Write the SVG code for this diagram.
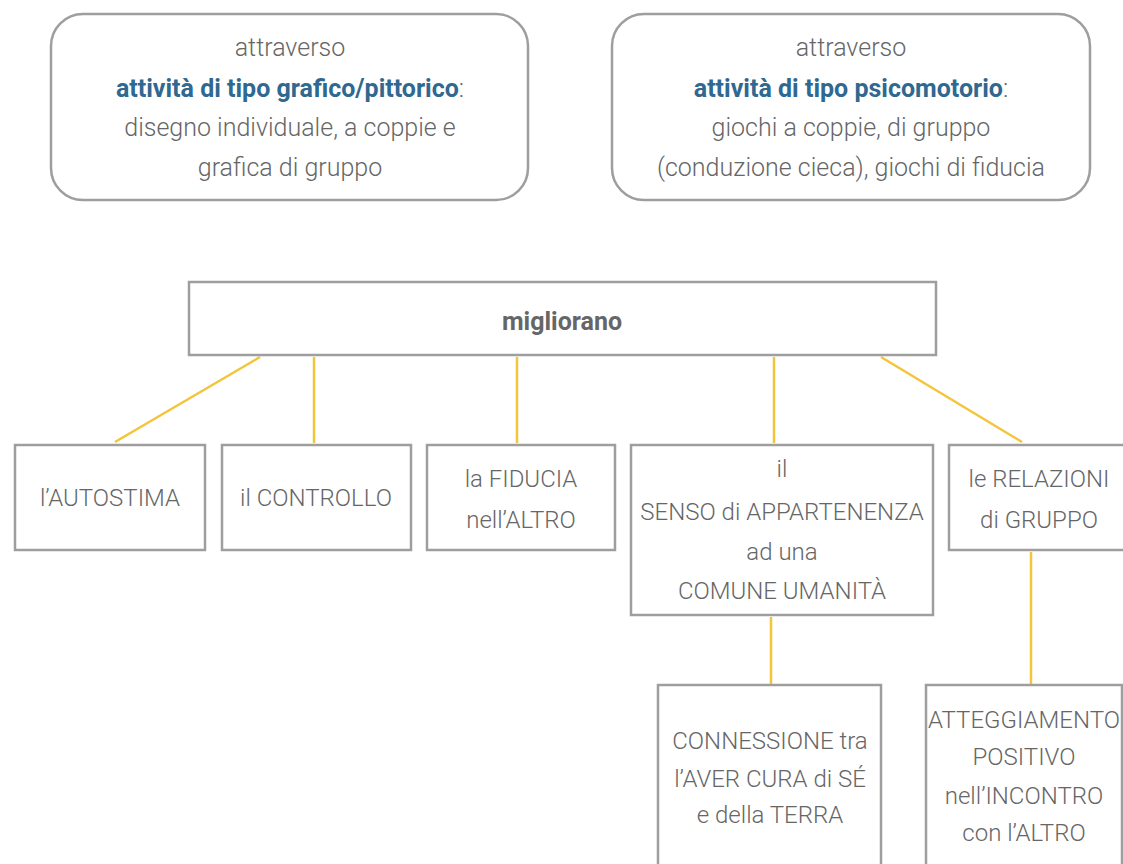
<svg xmlns="http://www.w3.org/2000/svg" width="1123" height="864" viewBox="0 0 1123 864">
<style>
.box{fill:#fff;stroke:#9e9e9e;stroke-width:2.5}
.t{font-family:Roboto,"Open Sans","Liberation Sans",sans-serif;font-size:24px;fill:#666;text-anchor:middle;font-weight:300}
.top{font-size:25px}
.b{font-weight:700;fill:#2f6890}
.m{font-weight:700;fill:#666;font-size:25px}
.c{stroke:#f3c53a;stroke-width:2.5;fill:none}
</style>
<rect width="1123" height="864" fill="#fff"/>
<g id="connectors">
<line class="c" x1="260" y1="357" x2="115" y2="442"/>
<line class="c" x1="314" y1="357" x2="314" y2="443"/>
<line class="c" x1="517" y1="357" x2="517" y2="443"/>
<line class="c" x1="774" y1="357" x2="774" y2="443"/>
<line class="c" x1="881" y1="357" x2="1022" y2="442"/>
<line class="c" x1="771" y1="617" x2="771" y2="684"/>
<line class="c" x1="1031" y1="552" x2="1031" y2="684"/>
</g>
<g id="n-grafico">
<rect class="box" x="51" y="14" width="477" height="186" rx="32"/>
<text class="t top" x="290" y="56">attraverso</text>
<text class="t top" x="290" y="97"><tspan class="b">attività di tipo grafico/pittorico</tspan>:</text>
<text class="t top" x="290" y="136">disegno individuale, a coppie e</text>
<text class="t top" x="290" y="176">grafica di gruppo</text>
</g>
<g id="n-psicomotorio">
<rect class="box" x="612" y="14" width="478" height="186" rx="32"/>
<text class="t top" x="851" y="56">attraverso</text>
<text class="t top" x="851" y="97"><tspan class="b">attività di tipo psicomotorio</tspan>:</text>
<text class="t top" x="851" y="136">giochi a coppie, di gruppo</text>
<text class="t top" x="851" y="176">(conduzione cieca), giochi di fiducia</text>
</g>
<g id="n-migliorano">
<rect class="box" x="189" y="282" width="747" height="73"/>
<text class="t m" x="562" y="330">migliorano</text>
</g>
<g id="n-autostima">
<rect class="box" x="15" y="445" width="190" height="105"/>
<text class="t" x="110" y="506">l’AUTOSTIMA</text>
</g>
<g id="n-controllo">
<rect class="box" x="222" y="445" width="189" height="105"/>
<text class="t" x="316" y="506">il CONTROLLO</text>
</g>
<g id="n-fiducia">
<rect class="box" x="427" y="445" width="188" height="105"/>
<text class="t" x="521" y="487">la FIDUCIA</text>
<text class="t" x="521" y="528">nell’ALTRO</text>
</g>
<g id="n-senso">
<rect class="box" x="631" y="445" width="302" height="170"/>
<text class="t" x="782" y="477">il</text>
<text class="t" x="782" y="520">SENSO di APPARTENENZA</text>
<text class="t" x="782" y="560">ad una</text>
<text class="t" x="782" y="599">COMUNE UMANITÀ</text>
</g>
<g id="n-relazioni">
<rect class="box" x="949" y="445" width="180" height="105"/>
<text class="t" x="1039" y="487">le RELAZIONI</text>
<text class="t" x="1039" y="528">di GRUPPO</text>
</g>
<g id="n-connessione">
<rect class="box" x="658" y="685" width="223" height="190"/>
<text class="t" x="770" y="749">CONNESSIONE tra</text>
<text class="t" x="770" y="787">l’AVER CURA di SÉ</text>
<text class="t" x="770" y="823">e della TERRA</text>
</g>
<g id="n-atteggiamento">
<rect class="box" x="926" y="685" width="196" height="190"/>
<text class="t" x="1024" y="728">ATTEGGIAMENTO</text>
<text class="t" x="1024" y="765">POSITIVO</text>
<text class="t" x="1024" y="804">nell’INCONTRO</text>
<text class="t" x="1024" y="841">con l’ALTRO</text>
</g>
</svg>
